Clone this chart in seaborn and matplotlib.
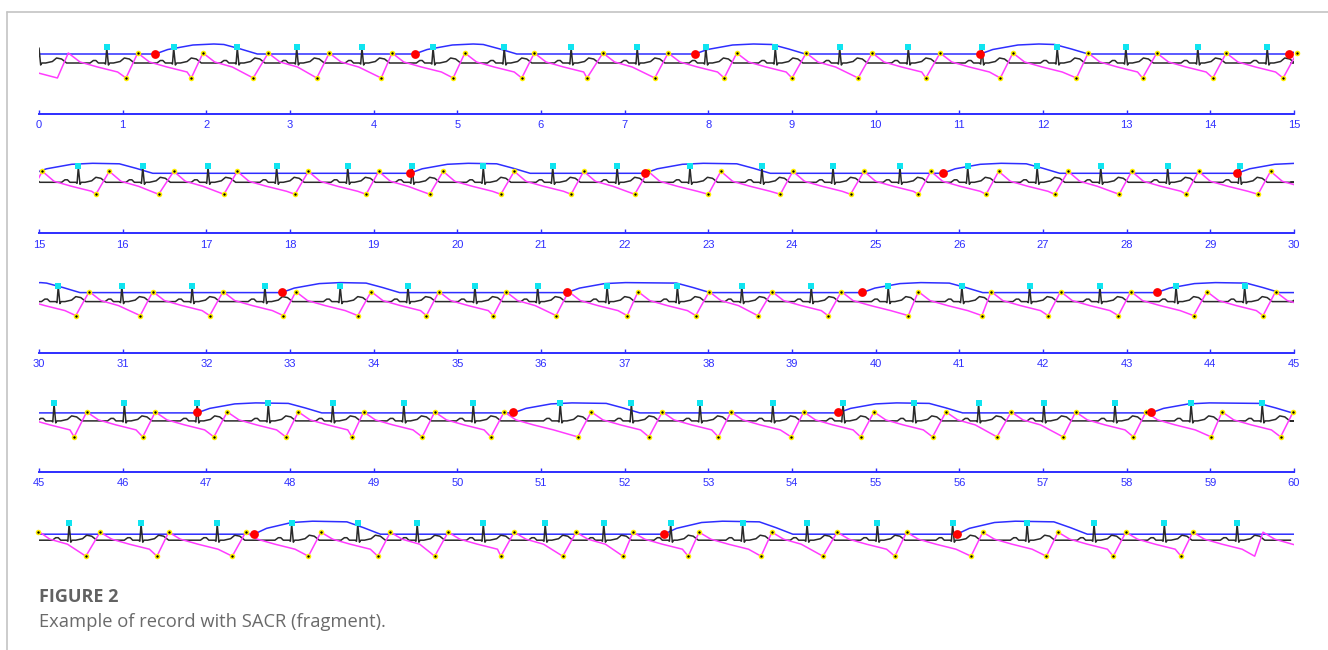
import matplotlib
matplotlib.use("Agg")
import matplotlib.pyplot as plt
from matplotlib.lines import Line2D
import seaborn as sns

# ---- data (times in seconds, 15 s per strip) ----
r_peaks = [0.81, 1.61, 2.37, 3.08, 3.86, 4.71, 5.56, 6.36, 7.15, 7.97, 8.80, 9.57, 10.39, 11.27, 12.17, 12.99, 13.85, 14.68,
           15.47, 16.24, 17.02, 17.84, 18.69, 19.46, 20.31, 21.14, 21.91, 22.78, 23.64, 24.49, 25.29, 26.10, 26.93, 27.69, 28.49, 29.35,
           30.23, 30.99, 31.83, 32.70, 33.60, 34.41, 35.21, 35.96, 36.79, 37.63, 38.40, 39.23, 40.15, 41.03, 41.84, 42.68, 43.59, 44.41,
           45.18, 46.02, 46.89, 47.74, 48.51, 49.36, 50.19, 51.23, 52.08, 52.90, 53.77, 54.61, 55.46, 56.23, 57.01, 57.86, 58.77, 59.62,
           60.36, 61.22, 62.13, 63.02, 63.81, 64.52, 65.31, 66.05, 66.75, 67.55, 68.41, 69.18, 70.02, 70.92, 71.81, 72.61, 73.45, 74.32]
ecg_extra_beats = [0.0]

pulse_troughs = [0.22, 1.04, 1.82, 2.56, 3.32, 4.09, 4.95, 5.77, 6.55, 7.36, 8.19, 9.00, 9.79, 10.60, 11.49, 12.40, 13.19, 14.03, 14.87,
                 15.68, 16.43, 17.21, 18.06, 18.91, 19.67, 20.52, 21.36, 22.12, 23.00, 23.86, 24.70, 25.51, 26.32, 27.14, 27.91, 28.71, 29.57,
                 30.44, 31.21, 32.04, 32.92, 33.81, 34.63, 35.43, 36.18, 37.03, 37.85, 38.59, 39.43, 40.39, 41.27, 42.06, 42.90, 43.80, 44.63,
                 45.42, 46.24, 47.09, 47.95, 48.74, 49.58, 50.40, 51.44, 52.29, 53.12, 53.99, 54.82, 55.68, 56.45, 57.24, 58.08, 59.01, 59.84,
                 60.56, 61.41, 62.31, 63.22, 64.05, 64.73, 65.52, 66.26, 66.98, 67.76, 68.63, 69.37, 70.23, 71.14, 72.04, 72.84, 73.65, 74.53]
pulse_peaks = [0.35, 1.18, 1.96, 2.74, 3.47, 4.22, 5.09, 5.92, 6.74, 7.52, 8.34, 9.17, 9.96, 10.77, 11.64, 12.54, 13.36, 14.19, 15.04,
               15.84, 16.61, 17.37, 18.22, 19.06, 19.83, 20.68, 21.51, 22.28, 23.15, 24.01, 24.86, 25.66, 26.47, 27.30, 28.06, 28.86, 29.72,
               30.60, 31.36, 32.20, 33.07, 33.97, 34.78, 35.58, 36.33, 37.16, 38.01, 38.76, 39.59, 40.51, 41.38, 42.21, 43.05, 43.96, 44.78,
               45.57, 46.39, 47.25, 48.10, 48.88, 49.73, 50.56, 51.60, 52.45, 53.27, 54.14, 54.98, 55.84, 56.62, 57.39, 58.23, 59.14, 59.99,
               60.73, 61.55, 62.47, 63.37, 64.20, 64.89, 65.68, 66.42, 67.10, 67.89, 68.76, 69.54, 70.37, 71.28, 72.18, 72.99, 73.79, 74.63]
marked_from, marked_to = 0.5, 74.4   # yellow dots only inside this span

red_dots = [1.39, 4.49, 7.84, 11.25, 14.94, 19.43, 22.24, 25.80, 29.32, 32.90, 36.31, 39.84, 43.36,
            46.89, 50.67, 54.55, 58.29, 62.57, 67.47, 70.97]
hump_ends = [2.61, 5.71, 9.16, 12.54, 16.36, 20.87, 23.74, 27.20, 30.49, 34.31, 38.02, 41.28, 44.83,
             48.38, 52.18, 56.04, 59.98, 64.08, 69.01, 72.53]

# per strip levels (pixels above the ECG baseline)
r_height = [15, 15, 15, 17, 16]
blue_base = [9, 9, 9, 8, 6]
blue_top = [19, 19, 19, 18, 19]
pulse_hi = [10, 11, 10, 9, 8]
pulse_lo = [-15, -12, -14, -16, -16]

ecg_dt = [-0.20, -0.16, -0.13, -0.10, -0.03, -0.015, 0.0, 0.02, 0.035, 0.08, 0.16, 0.21, 0.27, 0.33]
ecg_v = [0, 2.5, 2.5, 0, 0, -1, 'R', -2, 0, 0, 1.5, 5, 4, 0]
pulse_decay = [(0.14, 1), (0.35, -4), (0.59, -9)]
hump_rise = [(0.0, 0.0), (0.15, 0.45), (0.45, 0.9), (0.7, 1.0)]
hump_fall = [(-0.4, 0.95), (-0.2, 0.5), (0.0, 0.0)]

BLUE = '#2e2eff'
MAGENTA = '#ff3cff'
CYAN = '#10e4f0'
W, H = 1328, 650
X0, X1 = 39, 1294


def row_of(t):
    return min(max(int(t // 15), 0), 4)


def ecg_series(t0, k):
    ts, vs = [t0 - 1], [0]
    for b in sorted(ecg_extra_beats + r_peaks):
        if t0 - 0.5 < b < t0 + 15.5:
            for dt, v in zip(ecg_dt, ecg_v):
                ts.append(b + dt)
                vs.append(r_height[k] if v == 'R' else v)
    ts.append(t0 + 14.96)
    vs.append(0)
    return ts, vs


def pulse_series():
    ts, vs = [-0.1], [-8]
    for i, (tr, pk) in enumerate(zip(pulse_troughs, pulse_peaks)):
        ts += [tr, pk]
        vs += [pulse_lo[row_of(tr)], pulse_hi[row_of(pk)]]
        nxt = pulse_troughs[i + 1] if i + 1 < len(pulse_troughs) else 99
        for dt, v in pulse_decay:
            if pk + dt < nxt - 0.03:
                ts.append(pk + dt)
                vs.append(v)
    return ts, vs


def blue_series(t0, k):
    base, h = blue_base[k], blue_top[k] - blue_base[k]
    ts, vs = [t0 - 2], [base]
    for s, e in zip(red_dots, hump_ends):
        if e < t0 - 2 or s > t0 + 15.5:
            continue
        for dt, f in hump_rise:
            ts.append(s + dt)
            vs.append(base + f * h)
        for dt, f in hump_fall:
            ts.append(e + dt)
            vs.append(base + f * h)
    ts.append(t0 + 15.5)
    vs.append(base)
    return ts, vs


sns.set_theme(style="white")
plt.rcParams['font.family'] = ['Liberation Sans', 'DejaVu Sans']

fig = plt.figure(figsize=(W / 100, H / 100), dpi=100)
pulse_t, pulse_v = pulse_series()

for k in range(5):
    t0 = 15 * k
    base_px = 63 + 119.3 * k
    axis_px = base_px + 51
    ax = fig.add_axes([X0 / W, 1 - axis_px / H, (X1 - X0) / W, 76 / H])

    bt, bv = blue_series(t0, k)
    sns.lineplot(x=bt, y=bv, ax=ax, color=BLUE, lw=1.1, estimator=None, sort=False, zorder=2)
    et, ev = ecg_series(t0, k)
    sns.lineplot(x=et, y=ev, ax=ax, color='#2a2a2a', lw=1.1, estimator=None, sort=False, zorder=3)
    sns.lineplot(x=pulse_t, y=pulse_v, ax=ax, color=MAGENTA, lw=1.1, estimator=None, sort=False, zorder=4)

    def in_row(t):
        return t0 - 0.05 <= t <= t0 + 15.06

    ym = [(t, pulse_lo[row_of(t)]) for t in pulse_troughs if in_row(t) and marked_from < t < marked_to]
    ym += [(t, pulse_hi[k]) for t in pulse_peaks if in_row(t) and marked_from < t < marked_to]
    sns.scatterplot(x=[p[0] for p in ym], y=[p[1] for p in ym], ax=ax, color='#ffee00', s=16,
                    linewidth=0, clip_on=False, zorder=5)
    sns.scatterplot(x=[p[0] for p in ym], y=[p[1] for p in ym], ax=ax, color='black', s=3,
                    linewidth=0, clip_on=False, zorder=6)
    rp = [t for t in r_peaks if in_row(t)]
    sns.scatterplot(x=rp, y=[r_height[k] + 1] * len(rp), ax=ax, color=CYAN, marker='s', s=19,
                    linewidth=0, clip_on=False, zorder=6)
    rd = [t for t in red_dots if in_row(t)]
    sns.scatterplot(x=rd, y=[blue_base[k] + 0.5] * len(rd), ax=ax, color='#ff0000', s=40,
                    linewidth=0, clip_on=False, zorder=7)

    ax.set_xlim(t0, t0 + 15)
    ax.set_ylim(-51, 25)
    ax.set_yticks([])
    ax.set_xlabel('')
    ax.set_ylabel('')
    sns.despine(ax=ax, left=True)
    ax.patch.set_alpha(0)
    if k < 4:
        ax.spines['bottom'].set_color(BLUE)
        ax.spines['bottom'].set_linewidth(1.4)
        ax.set_xticks(range(t0, t0 + 16))
        ax.set_xticklabels([str(v) for v in range(t0, t0 + 16)])
        ax.tick_params(axis='x', direction='in', length=3, width=1, colors=BLUE,
                       labelsize=8, pad=4.5, bottom=True)
    else:
        ax.spines['bottom'].set_visible(False)
        ax.set_xticks([])

# frame lines of the figure panel
fig.add_artist(Line2D([7 / W, 7 / W], [0, 1 - 12 / H], color='#c4c4c4', lw=1.2))
fig.add_artist(Line2D([7 / W, 1], [1 - 12 / H, 1 - 12 / H], color='#c4c4c4', lw=1.2))

fig.text(X0 / W, 1 - 597 / H, "FIGURE 2", ha='left', va='center', fontsize=13,
         fontweight='bold', color='#626262', family=['Open Sans', 'DejaVu Sans'])
fig.text(X0 / W, 1 - 622 / H, "Example of record with SACR (fragment).", ha='left', va='center',
         fontsize=13.2, color='#6a6a6a', family=['Open Sans', 'DejaVu Sans'])

fig.savefig("out.png", dpi=100)
